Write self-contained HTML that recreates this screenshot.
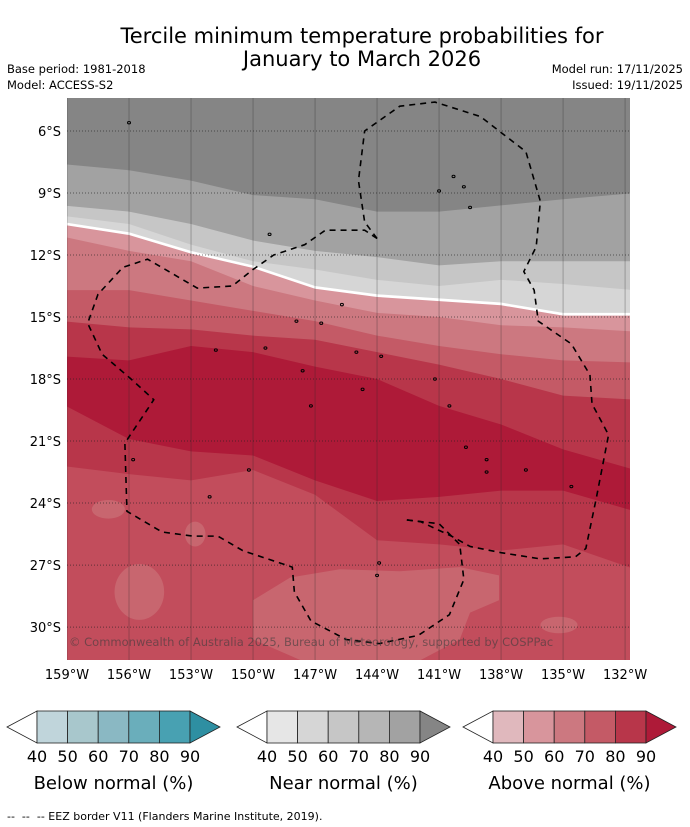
<!DOCTYPE html>
<html><head><meta charset="utf-8"><style>
body{margin:0;background:#fff;width:690px;height:827px;overflow:hidden;font-family:"DejaVu Sans","Liberation Sans",sans-serif}
svg{position:absolute;left:0;top:0}
</style></head><body>
<svg id="s" width="690" height="827">
<text x="362" y="43" font-size="21" text-anchor="middle">Tercile minimum temperature probabilities for</text>
<text x="362" y="66" font-size="21" text-anchor="middle">January to March 2026</text>
<text x="7" y="73" font-size="11.5">Base period: 1981-2018</text>
<text x="7" y="89" font-size="11.5">Model: ACCESS-S2</text>
<text x="683" y="73" font-size="11.5" text-anchor="end">Model run: 17/11/2025</text>
<text x="683" y="89" font-size="11.5" text-anchor="end">Issued: 19/11/2025</text>
<g id="map"></g>
<g id="axes"></g>
<g id="legend"></g>
<text x="7" y="820" font-size="11">-- &#160;-- &#160;-- EEZ border V11 (Flanders Marine Institute, 2019).</text>
</svg>
<script>
const lons=[159,156,153,150,147,144,141,138,135,131.8];
const latTicks=[6,9,12,15,18,21,24,27,30];
const lonTicks=[159,156,153,150,147,144,141,138,135,132];
const gray90Bottom=[7.6,7.9,8.4,9.1,9.3,9.9,9.9,9.6,9.3,9.0];
const gray80Bottom=[9.6,9.9,10.5,11.3,11.8,12.1,12.5,12.3,12.3,12.3];
const gray60Bottom=[10.1,10.5,11.5,12.3,12.7,13.2,13.5,13.2,13.4,13.7];
const grayEnd=[10.4,10.9,11.8,12.5,13.5,13.9,14.1,14.3,14.8,14.8];
const red50Bottom=[11.1,11.8,12.3,13.5,14.2,14.8,15.0,15.4,15.5,15.7];
const red60Bottom=[13.7,13.7,14.2,14.7,15.2,15.9,16.4,16.8,17.1,17.2];
const red70Bottom=[15.2,15.5,15.6,15.9,16.1,16.7,17.3,18.0,18.8,19.0];
const red80Bottom=[16.9,17.1,16.4,16.7,17.4,18.0,19.3,20.2,21.4,22.4];
const red90Bottom=[19.2,20.9,21.5,21.7,22.9,23.9,23.7,23.4,23.4,24.4];
const red80SouthBottom=[22.2,22.6,22.9,22.4,23.6,25.8,26.0,26.3,26.0,27.2];
const patchLons=[150.0,148.2,145.8,142.9,140.0,138.1,138.1,139.5,140.0,141.9,147.7,150.0];
const patchLats=[28.7,27.6,27.2,27.3,27.1,27.5,28.7,29.3,30.6,31.6,31.6,30.6];
const blobs=[[155.5,28.3,1.2,1.35],[157.0,24.3,0.8,0.45],[135.2,29.9,0.9,0.4],[152.8,25.5,0.5,0.6]];
const eezA=[[144,11.2],[144.6,10.4],[144.9,8.4],[144.6,6],[142.9,4.8],[141.2,4.6],[139,5.3],[136.8,7],[136.1,9.4],[136.3,11.6],[136.9,12.8],[136.4,13.7],[136.2,15.2],[134.6,16.3],[133.7,17.8],[133.6,19.2],[132.8,20.7],[133.4,23.8],[133.9,26.2],[134.4,26.6],[136.1,26.7],[138,26.4],[139.5,26.1],[140.4,25.6],[141.9,24.9],[142.7,24.8]];
const eezB=[[144,11.2],[144.6,10.8],[146.5,10.8],[147.5,11.5],[149,12],[150,12.7],[151,13.5],[152.7,13.6],[153.9,12.9],[155.1,12.2],[156.3,12.6],[157.5,13.9],[158,15.3],[157.3,16.8],[155.9,18],[154.8,19],[155.4,19.9],[156.2,21.1],[156.1,24.4],[154.4,25.4],[152.9,25.6],[151.7,25.6],[150.5,26.3],[148.1,27.1],[148,28.3],[147.2,29.7],[145.5,30.6],[143.9,30.8],[142,30.4],[140.5,29.4],[139.8,27.7],[140,26],[141,25],[142.7,24.8]];
const islands=[[156,5.6],[149.2,11],[141,8.9],[140.3,8.2],[139.8,8.7],[139.5,9.7],[145.7,14.4],[146.7,15.3],[147.9,15.2],[145,16.7],[143.8,16.9],[149.4,16.5],[147.6,17.6],[151.8,16.6],[141.2,18],[144.7,18.5],[147.2,19.3],[140.5,19.3],[139.7,21.3],[138.7,21.9],[138.7,22.5],[150.2,22.4],[155.8,21.9],[134.6,23.2],[136.8,22.4],[152.1,23.7],[143.9,26.9],[144,27.5]];
const X0=67,Y0=131,K=20.67,W0=67,W1=630,H0=98,H1=660;
const xs=l=>X0+(159-l)*K, ys=t=>Y0+(t-6)*K;
const NS='http://www.w3.org/2000/svg';
function mk(tag,attrs,parent){const e=document.createElementNS(NS,tag);for(const k in attrs)e.setAttribute(k,attrs[k]);parent.appendChild(e);return e;}
const map=document.getElementById('map'),axes=document.getElementById('axes'),leg=document.getElementById('legend');
const defs=mk('defs',{},map);const cp=mk('clipPath',{id:'cp'},defs);mk('rect',{x:W0,y:H0,width:W1-W0,height:H1-H0},cp);
const g=mk('g',{'clip-path':'url(#cp)'},map);
let bg=mk('rect',{x:W0,y:H0,width:W1-W0,height:H1-H0,fill:'#858585'},g);

function below(arr,fill,name){let d='M'+(W0-5)+','+ys(arr[0]);lons.forEach((l,i)=>{d+=' L'+(i==0?W0-5:(i==lons.length-1?W1+5:xs(l)))+','+ys(arr[i]);});d+=' L'+(W1+5)+','+(H1+5)+' L'+(W0-5)+','+(H1+5)+'Z';const p=mk('path',{d:d,fill:fill},g);

return p;}
below(gray90Bottom,'#a2a2a2','near-normal-80-band');
below(gray80Bottom,'#c6c6c6','near-normal-60-band');
below(gray60Bottom,'#d6d6d6','near-normal-50-band');
below(grayEnd,'#ffffff','tercile-boundary');
const grayEndShift=grayEnd.map(v=>v+0.13);
below(grayEndShift,'#d8959c','above-normal-50-band');
below(red50Bottom,'#cc7880','above-normal-60-band');
below(red60Bottom,'#c45a66','above-normal-70-band');
below(red70Bottom,'#b8364a','above-normal-80-band');
below(red80Bottom,'#ae1a38','above-normal-90-band');
below(red90Bottom,'#b8364a','above-normal-80-south-band');
below(red80SouthBottom,'#c24d5c','above-normal-70-south-band');
let pd='';patchLons.forEach((l,i)=>{pd+=(i?' L':'M')+xs(l)+','+ys(patchLats[i]);});
const pp=mk('path',{d:pd+'Z',fill:'#c8666f'},g);


blobs.forEach(b=>{const e=mk('ellipse',{cx:xs(b[0]),cy:ys(b[1]),rx:b[2]*K,ry:b[3]*K,fill:'#c8666f'},g);

});
islands.forEach(p=>{const e=mk('ellipse',{cx:xs(p[0]),cy:ys(p[1]),rx:1.5,ry:1.2,fill:'none',stroke:'#000','stroke-width':1},g);

});
lonTicks.forEach(l=>{const e=mk('line',{x1:xs(l),x2:xs(l),y1:H0,y2:H1,stroke:'rgba(40,40,40,0.3)','stroke-width':1},g);

});
latTicks.forEach(t=>{const e=mk('line',{x1:W0,x2:W1,y1:ys(t),y2:ys(t),stroke:'rgba(30,30,30,0.6)','stroke-width':1,'stroke-dasharray':'1,2'},g);

});
[eezA,eezB].forEach(a=>{let d='';a.forEach((p,i)=>{d+=(i?' L':'M')+xs(p[0])+','+ys(p[1]);});
const e=mk('path',{d:d,fill:'none',stroke:'#000','stroke-width':1.6,'stroke-dasharray':'6,5','stroke-linejoin':'round'},g);

});
const cr=mk('text',{x:69,y:646,'font-size':11.5,fill:'rgba(60,60,60,0.6)'},g);cr.textContent='© Commonwealth of Australia 2025, Bureau of Meteorology, supported by COSPPac';


latTicks.forEach(t=>{const e=mk('text',{x:61,y:ys(t)+5,'font-size':13,'text-anchor':'end'},axes);e.textContent=t+'°S';

});
lonTicks.forEach(l=>{const e=mk('text',{x:xs(l),y:679,'font-size':13,'text-anchor':'middle'},axes);e.textContent=l+'°W';

});
const barTicks=[40,50,60,70,80,90];
const bars=[{x:7,title:'Below normal (%)',cols:['#c0d5db','#a8c7cc','#8ab8c3','#6aaebb','#48a1b2','#2e8fa2'],n:'below-normal'},
{x:237,title:'Near normal (%)',cols:['#e6e6e6','#d6d6d6','#c6c6c6','#b6b6b6','#a2a2a2','#858585'],n:'near-normal'},
{x:463,title:'Above normal (%)',cols:['#e0b8bd','#d8959c','#cc7880','#c45a66','#b8364a','#ae1a38'],n:'above-normal'}];
bars.forEach(b=>{const gg=mk('g',{},leg);


const y0=711,y1=743,ym=727,bx=b.x+30,sw=30.6;
mk('path',{d:`M${b.x},${ym} L${bx},${y0} L${bx},${y1}Z`,fill:'#fff',stroke:'#222','stroke-width':0.8},gg);
for(let i=0;i<5;i++)mk('rect',{x:bx+i*sw,y:y0,width:sw,height:y1-y0,fill:b.cols[i],stroke:'#222','stroke-width':0.8},gg);
const ex=bx+5*sw;mk('path',{d:`M${ex},${y0} L${ex+30},${ym} L${ex},${y1}Z`,fill:b.cols[5],stroke:'#222','stroke-width':0.8},gg);
barTicks.forEach((v,i)=>{const t=mk('text',{x:bx+i*sw,y:762,'font-size':16,'text-anchor':'middle'},gg);t.textContent=v;});
const tt=mk('text',{x:bx+2.5*sw,y:789,'font-size':18,'text-anchor':'middle'},gg);tt.textContent=b.title;});
</script>
</body></html>
